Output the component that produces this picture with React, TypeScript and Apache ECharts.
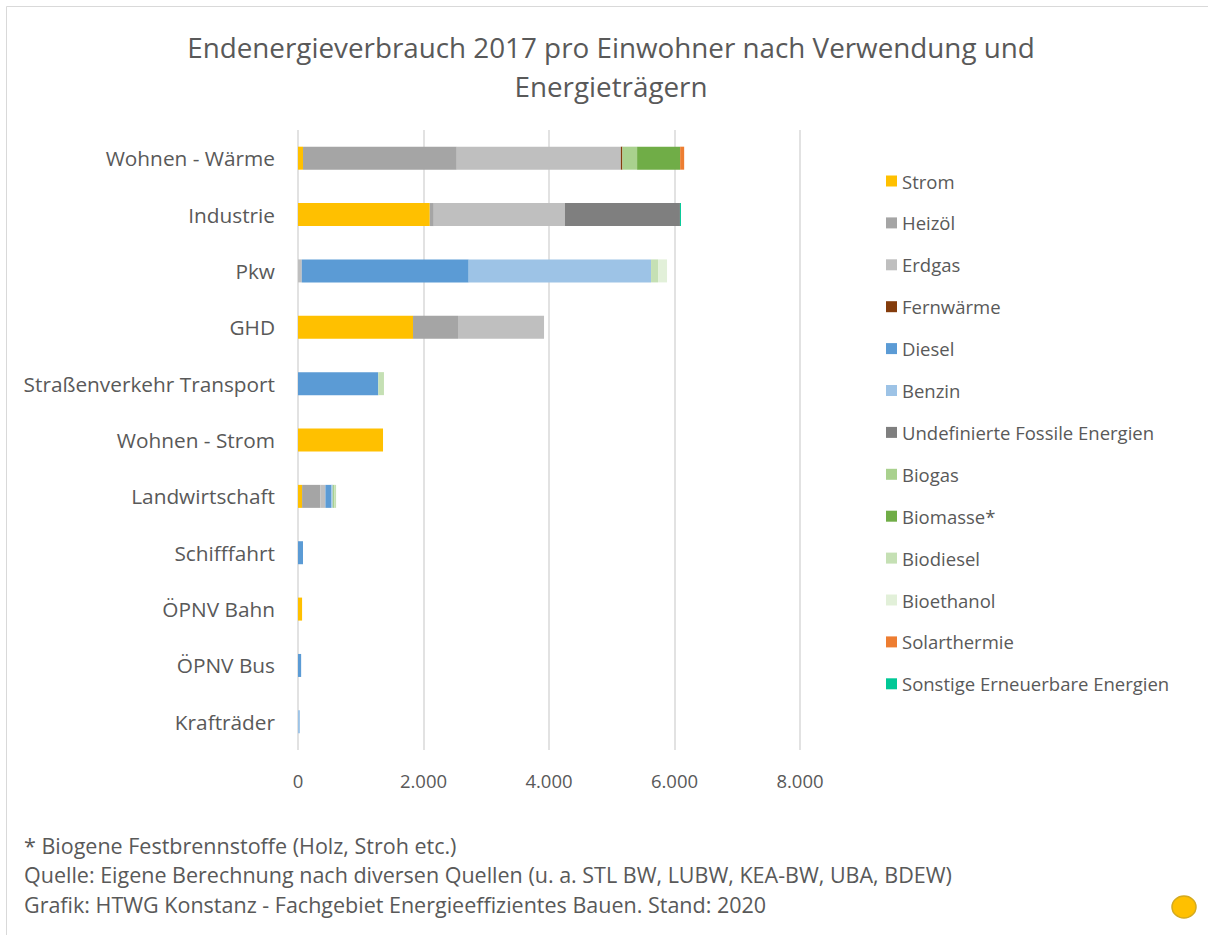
import React, { useEffect, useRef } from "react";
import * as echarts from "echarts";

const categories = [
  "Wohnen - Wärme",
  "Industrie",
  "Pkw",
  "GHD",
  "Straßenverkehr Transport",
  "Wohnen - Strom",
  "Landwirtschaft",
  "Schifffahrt",
  "ÖPNV Bahn",
  "ÖPNV Bus",
  "Krafträder",
];

const strom = [80, 2100, 0, 1833, 0, 1355, 65, 0, 65, 0, 0];
const heizoel = [2450, 64, 0, 717, 0, 0, 292, 0, 0, 0, 0];
const erdgas = [2615, 2090, 60, 1371, 0, 0, 80, 0, 0, 0, 0];
const fernwaerme = [25, 0, 0, 0, 0, 0, 0, 0, 0, 0, 0];
const diesel = [0, 0, 2660, 0, 1280, 0, 96, 80, 0, 50, 0];
const benzin = [0, 0, 2906, 0, 0, 0, 20, 0, 0, 0, 30];
const undefFossil = [0, 1833, 0, 0, 0, 0, 0, 0, 0, 0, 0];
const biogas = [234, 0, 0, 0, 0, 0, 25, 0, 0, 0, 0];
const biomasse = [686, 0, 0, 0, 0, 0, 0, 0, 0, 0, 0];
const biodiesel = [0, 0, 112, 0, 90, 0, 29, 0, 0, 0, 0];
const bioethanol = [0, 0, 143, 0, 0, 0, 0, 0, 0, 0, 0];
const solarthermie = [64, 0, 0, 0, 0, 0, 0, 0, 0, 0, 0];
const sonstige = [0, 16, 0, 0, 0, 0, 0, 0, 0, 0, 0];

const seriesDefs = [
  { name: "Strom", data: strom, color: "#FFC000" },
  { name: "Heizöl", data: heizoel, color: "#A5A5A5" },
  { name: "Erdgas", data: erdgas, color: "#BFBFBF" },
  { name: "Fernwärme", data: fernwaerme, color: "#843C0C" },
  { name: "Diesel", data: diesel, color: "#5B9BD5" },
  { name: "Benzin", data: benzin, color: "#9DC3E6" },
  { name: "Undefinierte Fossile Energien", data: undefFossil, color: "#7F7F7F" },
  { name: "Biogas", data: biogas, color: "#A9D18E" },
  { name: "Biomasse*", data: biomasse, color: "#70AD47" },
  { name: "Biodiesel", data: biodiesel, color: "#C5E0B4" },
  { name: "Bioethanol", data: bioethanol, color: "#E2F0D9" },
  { name: "Solarthermie", data: solarthermie, color: "#ED7D31" },
  { name: "Sonstige Erneuerbare Energien", data: sonstige, color: "#00C896" },
];

const xTicks = { min: 0, max: 8000, interval: 2000 };

const titleLines = [
  "Endenergieverbrauch 2017 pro Einwohner nach Verwendung und",
  "Energieträgern",
];

const footnotes = [
  "* Biogene Festbrennstoffe (Holz, Stroh etc.)",
  "Quelle: Eigene Berechnung nach diversen Quellen (u. a. STL BW, LUBW, KEA-BW, UBA, BDEW)",
  "Grafik: HTWG Konstanz - Fachgebiet Energieeffizientes Bauen. Stand: 2020",
];

const FONT = "Open Sans";
const TEXT = "#595959";

export default function App() {
  const ref = useRef<HTMLDivElement>(null);

  useEffect(() => {
    if (!ref.current) return;
    const chart = echarts.init(ref.current, null, { renderer: "svg" });

    const fmt = (v: number) =>
      String(v).replace(/\B(?=(\d{3})+(?!\d))/g, ".");

    chart.setOption({
      animation: false,
      backgroundColor: "#ffffff",
      textStyle: { fontFamily: FONT },
      grid: { left: 298, top: 130, width: 502, height: 620, containLabel: false },
      legend: {
        orient: "vertical",
        left: 881,
        top: 166,
        icon: "rect",
        itemWidth: 11,
        itemHeight: 11,
        itemGap: 21.9,
        textStyle: { fontSize: 18.5, color: TEXT, fontFamily: FONT, lineHeight: 20 },
        data: seriesDefs.map((s) => s.name),
      },
      xAxis: {
        type: "value",
        min: xTicks.min,
        max: xTicks.max,
        interval: xTicks.interval,
        axisLine: { show: false },
        axisTick: { show: false },
        splitLine: { show: true, lineStyle: { color: "#D9D9D9", width: 1.5 } },
        axisLabel: {
          color: TEXT,
          fontSize: 18.5,
          fontFamily: FONT,
          margin: 21,
          formatter: (v: number) => fmt(v),
        },
      },
      yAxis: {
        type: "category",
        inverse: true,
        data: categories,
        axisLine: { show: false },
        axisTick: { show: false },
        axisLabel: { color: TEXT, fontSize: 20.8, fontFamily: FONT, margin: 23 },
      },
      series: seriesDefs.map((s) => ({
        name: s.name,
        type: "bar",
        stack: "total",
        data: s.data,
        barWidth: 23,
        itemStyle: { color: s.color },
        emphasis: { disabled: true },
      })),
      graphic: [
        {
          type: "rect",
          shape: { x: 6.5, y: 6.5, width: 1220, height: 950 },
          style: { fill: "none", stroke: "#D9D9D9", lineWidth: 1 },
          silent: true,
        },
        ...titleLines.map((t, i) => ({
          type: "text",
          x: 611,
          y: 47 + i * 39,
          style: {
            text: t,
            fill: TEXT,
            fontSize: 27.8,
            fontFamily: FONT,
            textAlign: "center",
            textVerticalAlign: "middle",
          },
          silent: true,
        })),
        ...footnotes.map((t, i) => ({
          type: "text",
          x: 24,
          y: 845 + i * 29.5,
          style: {
            text: t,
            fill: TEXT,
            fontSize: 21.5,
            fontFamily: FONT,
            textAlign: "left",
            textVerticalAlign: "middle",
          },
          silent: true,
        })),
        {
          type: "ellipse",
          shape: { cx: 1184, cy: 907, rx: 12, ry: 11 },
          style: { fill: "#FFC000", stroke: "#D4AA1F", lineWidth: 1.5 },
          silent: true,
        },
      ],
    });

    return () => chart.dispose();
  }, []);

  return (
    <div
      ref={ref}
      style={{ position: "fixed", left: 0, top: 0, width: 1208, height: 935 }}
    />
  );
}
